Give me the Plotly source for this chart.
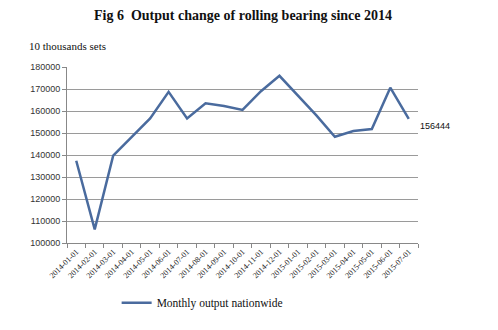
import plotly.graph_objects as go

categories = ["2014-01-01", "2014-02-01", "2014-03-01", "2014-04-01", "2014-05-01",
              "2014-06-01", "2014-07-01", "2014-08-01", "2014-09-01", "2014-10-01",
              "2014-11-01", "2014-12-01", "2015-01-01", "2015-02-01", "2015-03-01",
              "2015-04-01", "2015-05-01", "2015-06-01", "2015-07-01"]
monthly_output = [137400, 106200, 139700, 148000, 156600, 168700, 156600, 163500,
                  162300, 160500, 169000, 176000, 167000, 158000, 148300, 150900,
                  151800, 170600, 156444]
series_name = "Monthly output nationwide"
title_text = "Fig 6  Output change of rolling bearing since 2014"
unit_text = "10 thousands sets"

serif = "Liberation Serif, Times New Roman, serif"
sans = "Liberation Sans, Arial, sans-serif"
line_color = "#4a6b9e"

fig = go.Figure()
fig.add_trace(go.Scatter(
    x=categories, y=monthly_output, mode="lines", name=series_name,
    line=dict(color=line_color, width=2.5),
))

fig.add_annotation(
    x=categories[-1], y=monthly_output[-1], text=str(monthly_output[-1]),
    showarrow=False, xanchor="left", yanchor="middle", xshift=9, yshift=-7,
    font=dict(family=sans, size=9, color="#111111"),
)
fig.add_annotation(
    xref="paper", yref="paper", x=0.5, y=1, yshift=52,
    text="<b>" + title_text + "</b>", showarrow=False,
    xanchor="center", yanchor="middle",
    font=dict(family=serif, size=14, color="#111111"),
)
fig.add_annotation(
    xref="paper", yref="paper", x=0, xshift=-40, y=1, yshift=21,
    text=unit_text, showarrow=False, xanchor="left", yanchor="middle",
    font=dict(family=serif, size=11, color="#111111"),
)

fig.update_layout(
    width=498, height=330,
    margin=dict(l=67, r=80, t=67, b=82),
    paper_bgcolor="white", plot_bgcolor="white",
    showlegend=True,
    legend=dict(orientation="h", x=0.385, xanchor="center", y=-0.34, yanchor="middle",
                font=dict(family=serif, size=11.5, color="#111111"),
                itemwidth=30,
                bgcolor="rgba(0,0,0,0)"),
    xaxis=dict(
        type="category", tickangle=-45, tickson="boundaries",
        range=[-0.5, len(categories) - 0.5],
        ticks="outside", ticklen=4, tickcolor="#888888",
        showline=True, linecolor="#888888", linewidth=1,
        showgrid=False,
        tickfont=dict(family=serif, size=8, color="#222222"),
    ),
    yaxis=dict(
        range=[100000, 180000], dtick=10000, tick0=100000, tickformat="d",
        ticks="outside", ticklen=4, tickcolor="#888888",
        showline=True, linecolor="#888888", linewidth=1,
        showgrid=True, gridcolor="#9a9a9a", gridwidth=1,
        zeroline=False,
        tickfont=dict(family=sans, size=9, color="#333333"),
    ),
)

fig.write_html("out.html")
